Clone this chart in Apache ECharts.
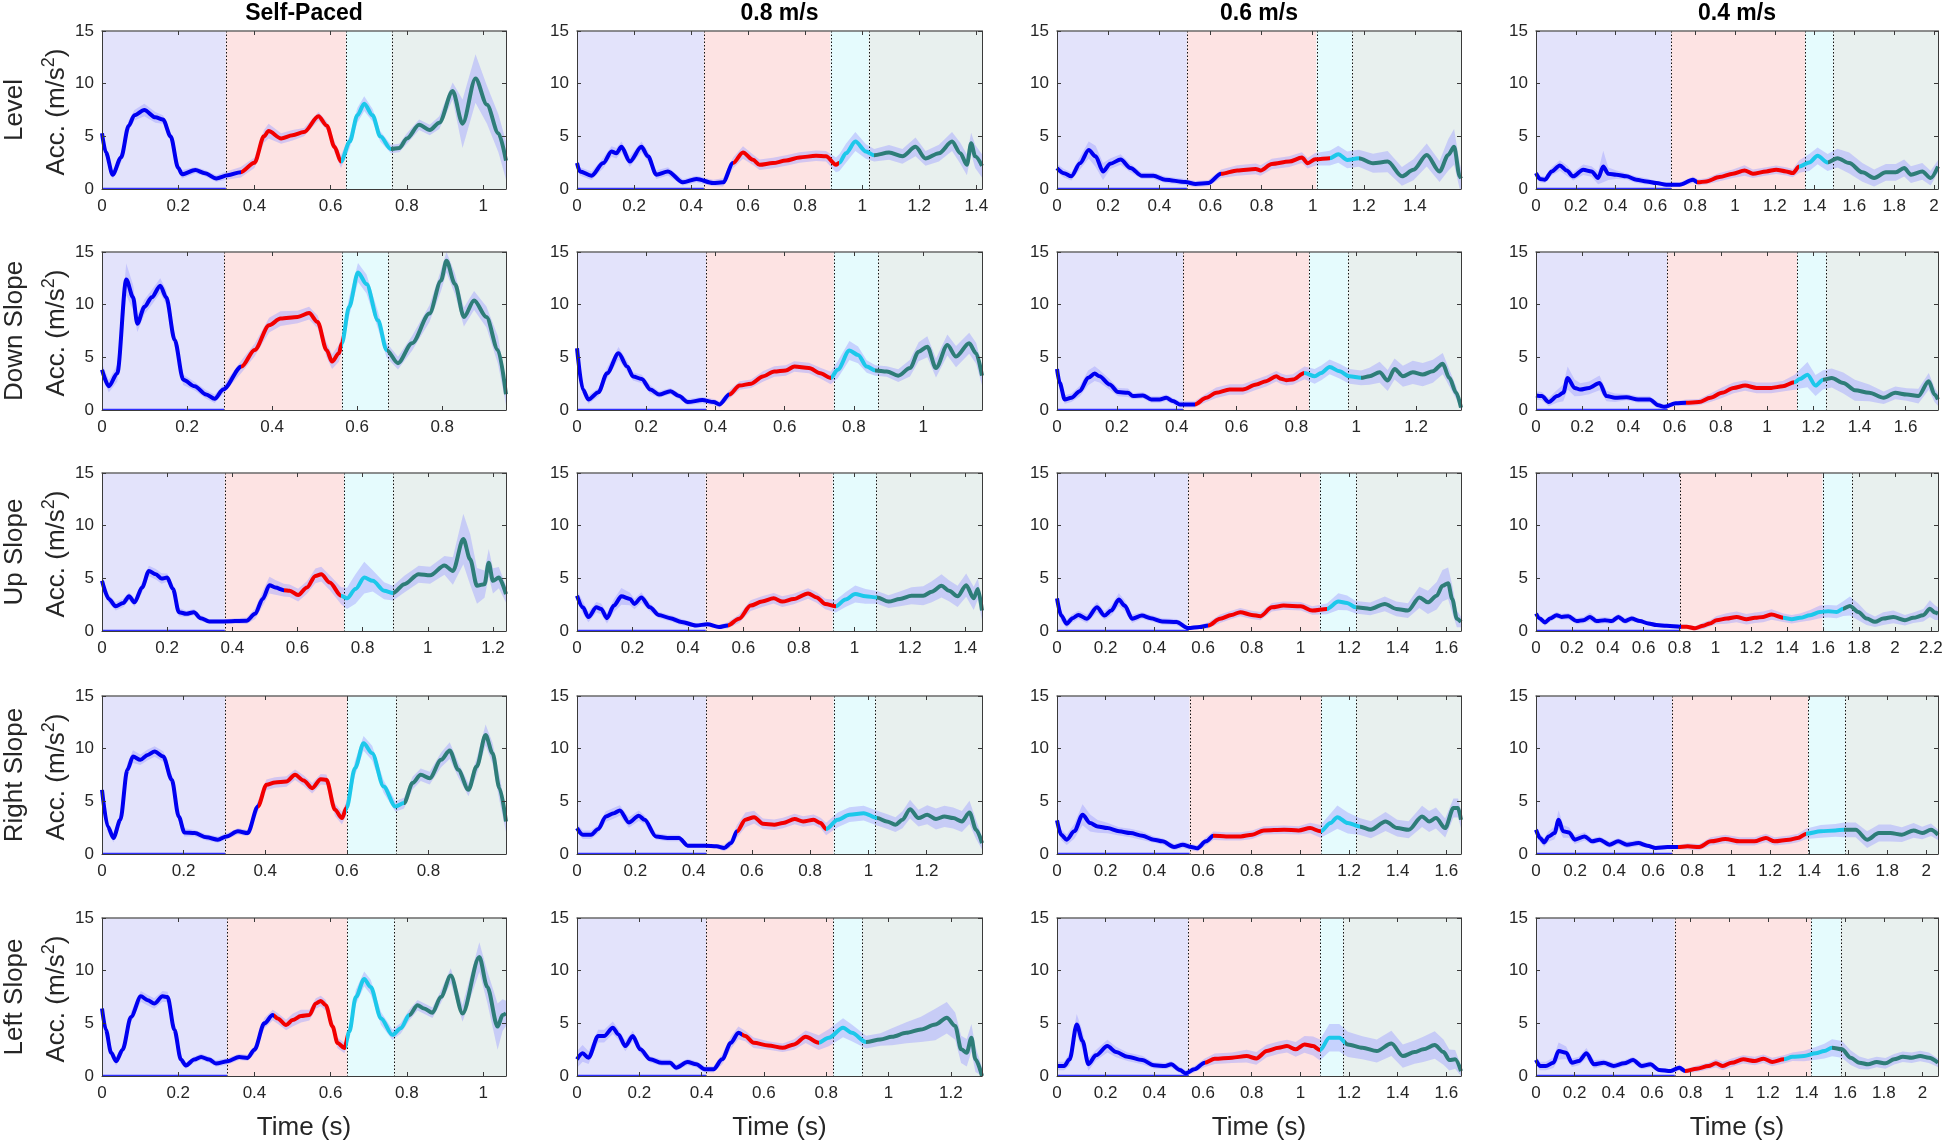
<!DOCTYPE html>
<html>
<head>
<meta charset="utf-8">
<title>Acceleration by gait phase</title>
<script src="https://cdn.jsdelivr.net/npm/echarts@6/dist/echarts.min.js"></script>
<style>
  html, body { margin: 0; padding: 0; background: #fff; }
  #chart { width: 1946px; height: 1144px; }
</style>
</head>
<body>
<div id="chart"></div>
<script>
// rows = surface, columns = walking speed
var rowNames = ['Level', 'Down Slope', 'Up Slope', 'Right Slope', 'Left Slope'];
var colNames = ['Self-Paced', '0.8 m/s', '0.6 m/s', '0.4 m/s'];
var yTicks = [0, 5, 10, 15];

// end of the time axis for every panel (s)
var xEnd = [
  [1.06, 1.42, 1.58, 2.02],
  [0.95, 1.17, 1.35, 1.74],
  [1.24, 1.46, 1.66, 2.24],
  [0.99, 1.39, 1.66, 2.06],
  [1.06, 1.30, 1.66, 2.08]
];

// dotted phase borders (shaded background)
var phaseEdges = [
  [[0.325, 0.64, 0.76], [0.445, 0.889, 1.023], [0.508, 1.015, 1.155], [0.68, 1.353, 1.494]],
  [[0.287, 0.564, 0.673], [0.373, 0.742, 0.87], [0.421, 0.842, 0.972], [0.567, 1.13, 1.255]],
  [[0.377, 0.743, 0.893], [0.464, 0.922, 1.078], [0.539, 1.08, 1.23], [0.802, 1.597, 1.762]],
  [[0.302, 0.601, 0.72], [0.444, 0.881, 1.024], [0.545, 1.086, 1.229], [0.697, 1.395, 1.585]],
  [[0.328, 0.644, 0.767], [0.414, 0.823, 0.915], [0.54, 1.081, 1.176], [0.718, 1.423, 1.577]]
];

// where the mean curve changes colour
var colourBreaks = [
  [[0.364, 0.627, 0.758], [0.547, 0.92, 1.042], [0.642, 1.067, 1.18], [0.809, 1.323, 1.465]],
  [[0.328, 0.564, 0.669], [0.44, 0.733, 0.862], [0.46, 0.827, 1.016], [0.65, 1.118, 1.243]],
  [[0.558, 0.734, 0.893], [0.543, 0.933, 1.082], [0.622, 1.109, 1.227], [0.81, 1.378, 1.712]],
  [[0.382, 0.599, 0.74], [0.549, 0.855, 1.03], [0.643, 1.083, 1.243], [0.727, 1.386, 1.579]],
  [[0.45, 0.64, 0.806], [0.531, 0.776, 0.928], [0.607, 1.081, 1.183], [0.772, 1.282, 1.532]]
];

// mean acceleration: [time, acc, half width of the band]
var lvSP = [[0,5.3,0.4],[0.01,3.5,0.4],[0.028,1.35,0.4],[0.05,3.0,0.5],[0.07,6.0,0.5],[0.085,7.0,0.5],[0.111,7.5,0.6],[0.14,6.8,0.5],[0.16,6.6,0.4],[0.18,5.0,0.4],[0.2,2.0,0.4],[0.21,1.4,0.4],[0.245,1.8,0.3],[0.27,1.5,0.3],[0.3,1.0,0.3],[0.33,1.3,0.4],[0.364,1.6,0.5],[0.4,2.5,0.5],[0.425,5.0,0.6],[0.437,5.5,0.7],[0.47,4.8,0.5],[0.5,5.1,0.5],[0.53,5.4,0.4],[0.568,6.9,0.4],[0.59,6.0,0.4],[0.61,4.0,0.5],[0.627,2.6,0.6],[0.65,4.5,0.6],[0.67,7.0,0.7],[0.688,8.1,0.7],[0.71,7.0,0.6],[0.73,5.0,0.5],[0.758,3.8,0.4],[0.78,3.9,0.4],[0.8,4.8,0.5],[0.832,6.1,0.5],[0.86,5.6,0.5],[0.885,6.3,0.6],[0.92,9.3,0.8],[0.946,6.2,2.3],[0.98,10.5,2.3],[1.01,8.0,1.8],[1.04,5.3,1.8],[1.06,2.7,1.8]];
var lv08 = [[0,2.46,0.4],[0.01,1.67,0.4],[0.051,1.26,0.4],[0.092,2.46,0.5],[0.121,3.56,0.5],[0.138,3.4,0.5],[0.156,4.0,0.5],[0.185,2.6,0.5],[0.226,4.0,0.5],[0.249,3.1,0.5],[0.278,1.36,0.4],[0.319,1.67,0.4],[0.371,0.63,0.3],[0.419,0.95,0.3],[0.477,0.57,0.3],[0.512,0.63,0.4],[0.547,2.46,0.5],[0.582,3.47,0.6],[0.617,2.77,0.5],[0.64,2.3,0.5],[0.687,2.46,0.5],[0.733,2.7,0.5],[0.78,3.0,0.5],[0.838,3.15,0.5],[0.873,3.1,0.5],[0.908,2.3,0.7],[0.92,2.5,0.8],[0.943,3.4,0.9],[0.976,4.5,0.9],[1.013,3.56,0.7],[1.042,3.2,0.6],[1.094,3.47,0.7],[1.141,3.1,0.7],[1.187,4.0,0.9],[1.222,2.9,0.7],[1.269,3.4,0.8],[1.315,4.5,0.9],[1.344,3.4,1.0],[1.367,2.3,1.0],[1.382,4.35,1.0],[1.396,3.1,1.1],[1.42,2.2,1.1]];
var lv06 = [[0,1.98,0.4],[0.027,1.5,0.4],[0.056,1.2,0.4],[0.09,2.45,0.6],[0.124,3.7,0.8],[0.151,3.1,1.0],[0.18,1.66,0.8],[0.208,2.4,0.5],[0.249,2.8,0.5],[0.287,2.0,0.4],[0.332,1.26,0.3],[0.377,1.26,0.3],[0.423,0.88,0.3],[0.502,0.66,0.3],[0.542,0.47,0.3],[0.592,0.56,0.3],[0.642,1.44,0.4],[0.705,1.76,0.5],[0.777,1.91,0.5],[0.796,1.76,0.5],[0.84,2.38,0.5],[0.908,2.6,0.5],[0.958,2.98,0.5],[0.98,2.45,0.5],[1.01,2.82,0.6],[1.067,2.92,0.7],[1.1,3.3,0.8],[1.135,2.76,0.8],[1.18,2.92,0.8],[1.236,2.45,0.9],[1.293,2.6,1.0],[1.349,1.2,0.9],[1.394,1.82,1.0],[1.446,3.23,1.1],[1.496,1.66,1.0],[1.53,3.23,1.5],[1.553,4.0,1.7],[1.575,1.2,1.2],[1.58,1.0,1.0]];
var lv04 = [[0,1.51,0.3],[0.02,0.95,0.3],[0.045,0.88,0.3],[0.079,1.67,0.4],[0.12,2.24,0.5],[0.154,1.76,0.5],[0.187,1.2,0.4],[0.237,1.83,0.5],[0.279,1.67,0.5],[0.312,1.04,0.6],[0.338,2.14,1.5],[0.363,1.45,0.6],[0.404,1.36,0.4],[0.454,1.2,0.3],[0.505,0.88,0.3],[0.555,0.72,0.3],[0.605,0.57,0.2],[0.655,0.41,0.2],[0.722,0.41,0.2],[0.789,0.88,0.3],[0.814,0.63,0.3],[0.855,0.72,0.3],[0.922,1.13,0.4],[0.989,1.45,0.4],[1.048,1.76,0.5],[1.09,1.45,0.4],[1.157,1.67,0.4],[1.207,1.83,0.4],[1.257,1.67,0.4],[1.29,1.51,0.4],[1.323,2.14,0.6],[1.373,2.52,0.8],[1.415,3.15,0.8],[1.465,2.52,0.8],[1.515,2.93,0.9],[1.574,2.46,1.0],[1.64,1.58,0.9],[1.699,1.04,0.8],[1.758,1.58,0.8],[1.808,1.58,0.8],[1.85,1.99,0.8],[1.884,1.36,0.8],[1.941,1.67,0.8],[1.983,1.04,0.7],[2.02,2.14,0.6]];

var dnSP = [[0,3.82,0.6],[0.016,2.25,0.6],[0.036,3.5,0.8],[0.057,12.4,1.5],[0.073,10.7,1.2],[0.083,8.2,0.8],[0.1,9.8,0.7],[0.117,10.7,0.7],[0.137,11.8,0.7],[0.151,10.7,0.7],[0.171,6.64,0.6],[0.191,2.88,0.5],[0.218,2.25,0.4],[0.245,1.47,0.4],[0.265,1.06,0.4],[0.285,1.94,0.4],[0.328,4.13,0.6],[0.359,5.7,0.6],[0.393,8.05,0.7],[0.42,8.68,0.7],[0.46,8.83,0.6],[0.487,9.2,0.6],[0.507,8.36,0.6],[0.528,5.7,0.7],[0.541,4.6,0.7],[0.557,5.39,0.8],[0.564,6.33,0.8],[0.581,9.77,0.9],[0.602,13.06,0.9],[0.622,11.96,0.9],[0.649,8.52,0.8],[0.669,5.7,0.7],[0.696,4.45,0.6],[0.729,6.33,0.7],[0.77,9.15,0.8],[0.797,12.28,1.0],[0.81,14.16,1.1],[0.83,11.96,1.0],[0.851,8.83,0.9],[0.875,10.4,0.9],[0.904,8.83,1.0],[0.931,5.7,1.3],[0.95,1.5,1.0]];
var dn08 = [[0,5.86,0.5],[0.017,1.94,0.4],[0.033,1.0,0.4],[0.062,1.69,0.4],[0.087,3.5,0.5],[0.12,5.39,0.6],[0.145,4.13,0.5],[0.162,3.19,0.4],[0.187,2.94,0.4],[0.212,1.94,0.4],[0.237,1.47,0.3],[0.27,1.79,0.3],[0.295,1.32,0.3],[0.32,0.75,0.3],[0.362,0.94,0.3],[0.395,0.75,0.3],[0.412,0.53,0.3],[0.44,1.47,0.4],[0.47,2.32,0.4],[0.503,2.5,0.4],[0.537,3.19,0.5],[0.57,3.66,0.5],[0.603,3.76,0.5],[0.628,4.13,0.5],[0.67,3.98,0.5],[0.703,3.5,0.5],[0.733,3.04,0.6],[0.753,3.82,0.8],[0.787,5.64,0.9],[0.812,5.23,0.8],[0.837,4.13,0.6],[0.862,3.76,0.5],[0.895,3.66,0.5],[0.928,3.26,0.6],[0.962,3.98,0.8],[0.987,5.54,0.9],[1.012,6.01,1.0],[1.037,3.98,0.9],[1.07,6.17,1.0],[1.095,5.07,1.0],[1.133,6.33,1.0],[1.153,5.39,1.0],[1.17,3.26,0.9]];
var dn06 = [[0,3.9,0.5],[0.009,2.58,0.5],[0.026,1.0,0.4],[0.048,1.16,0.4],[0.076,1.79,0.5],[0.104,3.05,0.7],[0.126,3.46,0.7],[0.142,3.2,0.6],[0.176,2.42,0.5],[0.204,1.7,0.4],[0.237,1.64,0.4],[0.254,1.32,0.3],[0.287,1.38,0.3],[0.315,1.0,0.3],[0.343,1.0,0.3],[0.365,1.16,0.3],[0.387,0.85,0.3],[0.41,0.53,0.3],[0.46,0.53,0.3],[0.499,1.16,0.4],[0.532,1.64,0.5],[0.577,1.95,0.5],[0.621,1.95,0.5],[0.666,2.42,0.5],[0.699,2.74,0.5],[0.733,3.2,0.5],[0.749,2.96,0.5],[0.766,2.83,0.5],[0.788,2.89,0.5],[0.827,3.52,0.6],[0.861,3.2,0.7],[0.883,3.52,0.7],[0.911,4.09,0.7],[0.944,3.68,0.7],[0.977,3.2,0.7],[1.016,3.05,0.7],[1.044,3.2,0.8],[1.078,3.58,1.0],[1.105,2.8,1.0],[1.128,3.9,1.0],[1.156,3.2,1.0],[1.189,3.58,1.1],[1.222,3.36,1.1],[1.256,3.68,1.1],[1.289,4.4,1.0],[1.311,3.05,0.8],[1.334,1.64,0.6],[1.35,0.22,0.3]];
var dn04 = [[0,1.38,0.4],[0.025,1.32,0.4],[0.055,0.75,0.4],[0.092,1.32,0.6],[0.118,1.63,0.8],[0.137,3.04,1.1],[0.167,2.1,0.8],[0.192,1.94,0.6],[0.23,2.1,0.6],[0.275,2.57,0.7],[0.305,1.32,0.5],[0.342,1.16,0.4],[0.392,1.22,0.3],[0.442,1.0,0.3],[0.492,1.0,0.3],[0.53,0.44,0.3],[0.555,0.31,0.2],[0.605,0.63,0.2],[0.65,0.69,0.3],[0.705,0.75,0.3],[0.755,1.16,0.4],[0.805,1.63,0.5],[0.855,2.1,0.5],[0.905,2.32,0.5],[0.955,2.1,0.5],[1.018,2.1,0.5],[1.068,2.25,0.5],[1.118,2.63,0.7],[1.142,2.94,0.9],[1.175,3.35,1.2],[1.21,2.32,1.0],[1.243,2.88,0.9],[1.28,3.04,0.9],[1.33,2.57,1.0],[1.38,1.88,1.0],[1.442,1.63,0.8],[1.505,1.16,0.6],[1.555,1.63,0.6],[1.605,1.47,0.6],[1.655,1.32,0.7],[1.7,2.72,0.8],[1.725,1.47,0.7],[1.74,1.0,0.6]];

var upSP = [[0,4.76,0.4],[0.021,3.04,0.4],[0.042,2.35,0.4],[0.065,2.66,0.4],[0.083,3.29,0.4],[0.1,2.72,0.4],[0.123,4.13,0.5],[0.144,5.7,0.5],[0.165,5.39,0.5],[0.183,4.98,0.5],[0.2,5.07,0.4],[0.218,3.98,0.4],[0.236,1.79,0.4],[0.259,1.63,0.3],[0.282,1.79,0.3],[0.303,1.22,0.3],[0.329,0.91,0.2],[0.373,0.91,0.2],[0.444,0.97,0.3],[0.47,1.63,0.5],[0.493,3.04,0.7],[0.514,4.35,0.8],[0.532,4.13,0.7],[0.558,3.88,0.6],[0.576,3.82,0.6],[0.602,3.41,0.6],[0.629,4.13,0.6],[0.655,5.23,0.7],[0.673,5.39,0.7],[0.699,4.6,0.7],[0.734,3.35,0.8],[0.752,3.1,1.0],[0.778,3.98,1.4],[0.805,5.07,1.5],[0.831,4.76,1.0],[0.866,3.82,0.8],[0.893,3.6,0.7],[0.928,4.45,0.8],[0.972,5.39,0.8],[1.007,5.29,0.8],[1.051,6.23,0.9],[1.077,5.7,1.3],[1.109,8.74,2.4],[1.13,6.8,2.4],[1.151,4.29,1.7],[1.174,4.45,1.3],[1.187,6.48,1.3],[1.2,4.76,1.2],[1.218,5.07,1.0],[1.24,3.5,0.8]];
var up08 = [[0,3.35,0.5],[0.021,2.25,0.6],[0.041,1.32,0.5],[0.07,2.25,0.5],[0.087,2.1,0.5],[0.108,1.22,0.5],[0.133,2.41,0.6],[0.16,3.29,0.8],[0.191,3.04,0.6],[0.207,2.57,0.5],[0.232,3.19,0.5],[0.263,2.25,0.4],[0.294,1.53,0.3],[0.336,1.22,0.3],[0.377,0.85,0.3],[0.429,0.53,0.2],[0.47,0.63,0.2],[0.512,0.38,0.2],[0.543,0.53,0.3],[0.584,1.16,0.4],[0.626,2.41,0.5],[0.667,2.79,0.5],[0.709,3.1,0.5],[0.74,2.79,0.5],[0.781,3.04,0.5],[0.833,3.57,0.5],[0.864,3.19,0.5],[0.895,2.57,0.5],[0.933,2.35,0.6],[0.968,2.98,0.7],[1.003,3.51,0.8],[1.04,3.29,0.7],[1.082,3.19,0.6],[1.123,2.79,0.6],[1.164,3.04,0.7],[1.206,3.35,0.8],[1.248,3.35,0.9],[1.279,3.73,1.0],[1.314,4.29,1.1],[1.341,3.82,1.0],[1.372,3.29,1.0],[1.403,4.35,1.1],[1.43,3.1,1.1],[1.445,3.98,1.0],[1.46,1.94,0.9]];
var up06 = [[0,3.1,0.5],[0.017,1.47,0.5],[0.04,0.69,0.4],[0.064,1.22,0.4],[0.088,1.53,0.4],[0.123,1.16,0.4],[0.164,2.25,0.5],[0.195,1.47,0.4],[0.223,1.94,0.5],[0.254,2.98,0.6],[0.278,2.41,0.5],[0.309,1.16,0.4],[0.349,1.47,0.3],[0.385,1.22,0.3],[0.432,0.91,0.3],[0.491,0.85,0.3],[0.539,0.28,0.2],[0.586,0.38,0.2],[0.622,0.53,0.3],[0.67,1.16,0.4],[0.717,1.53,0.4],[0.753,1.79,0.4],[0.8,1.53,0.4],[0.836,1.41,0.4],[0.883,2.25,0.4],[0.931,2.41,0.4],[1.002,2.35,0.4],[1.049,1.94,0.4],[1.109,2.1,0.5],[1.156,2.79,0.8],[1.192,2.66,0.7],[1.227,2.25,0.6],[1.287,2.1,0.6],[1.347,2.57,0.7],[1.394,2.1,0.7],[1.442,1.94,0.7],[1.489,3.19,1.0],[1.524,2.72,1.1],[1.56,3.35,1.3],[1.584,4.29,1.5],[1.607,4.54,1.5],[1.624,3.04,1.3],[1.643,1.16,0.8],[1.66,0.85,0.5]];
var up04 = [[0,1.65,0.3],[0.022,1.18,0.3],[0.05,0.81,0.3],[0.078,1.18,0.3],[0.115,1.5,0.3],[0.143,1.34,0.3],[0.18,1.4,0.3],[0.227,0.94,0.3],[0.264,1.03,0.3],[0.301,1.34,0.4],[0.338,0.94,0.3],[0.384,1.03,0.3],[0.422,0.94,0.3],[0.459,1.34,0.3],[0.496,0.94,0.3],[0.533,1.18,0.3],[0.579,0.94,0.2],[0.626,0.72,0.2],[0.672,0.56,0.2],[0.728,0.5,0.2],[0.802,0.41,0.2],[0.839,0.41,0.2],[0.886,0.25,0.2],[0.932,0.5,0.3],[0.969,0.72,0.3],[1.006,1.03,0.4],[1.062,1.18,0.5],[1.118,1.34,0.5],[1.173,1.12,0.5],[1.22,1.25,0.5],[1.266,1.34,0.5],[1.313,1.56,0.5],[1.378,1.25,0.4],[1.425,1.12,0.4],[1.471,1.25,0.4],[1.527,1.5,0.5],[1.582,1.81,0.6],[1.629,1.87,0.6],[1.675,1.81,0.6],[1.712,2.12,0.7],[1.749,2.37,0.9],[1.796,1.81,0.8],[1.842,1.18,0.6],[1.889,0.87,0.5],[1.935,1.18,0.6],[1.991,1.34,0.6],[2.056,1.03,0.5],[2.102,1.25,0.5],[2.158,1.5,0.6],[2.195,2.12,0.8],[2.223,1.75,0.7],[2.24,1.65,0.6]];

var rtSP = [[0,6.09,0.5],[0.014,2.62,0.5],[0.028,1.52,0.4],[0.045,3.25,0.5],[0.062,7.99,0.6],[0.076,9.25,0.6],[0.094,8.94,0.5],[0.112,9.41,0.5],[0.129,9.73,0.5],[0.15,9.25,0.5],[0.171,7.04,0.5],[0.188,3.57,0.4],[0.202,2.05,0.4],[0.227,1.99,0.3],[0.256,1.58,0.3],[0.284,1.36,0.3],[0.305,1.67,0.3],[0.333,2.15,0.3],[0.357,1.99,0.3],[0.382,4.52,0.5],[0.403,6.57,0.5],[0.424,6.79,0.5],[0.452,6.88,0.5],[0.473,7.52,0.5],[0.494,6.98,0.5],[0.515,6.25,0.5],[0.536,7.1,0.5],[0.55,7.04,0.5],[0.571,4.2,0.6],[0.588,3.41,0.6],[0.599,4.36,0.6],[0.62,8.15,0.7],[0.641,10.51,0.7],[0.662,9.57,0.7],[0.69,6.41,0.6],[0.719,4.52,0.5],[0.74,4.83,0.5],[0.761,6.73,0.6],[0.781,7.52,0.6],[0.803,7.2,0.6],[0.831,8.94,0.7],[0.852,9.82,0.8],[0.873,7.99,0.7],[0.898,6.09,0.6],[0.918,8.3,0.8],[0.94,11.3,1.0],[0.957,9.57,1.0],[0.974,6.25,1.2],[0.99,3.09,1.0]];
var rt08 = [[0,2.46,0.4],[0.02,1.83,0.4],[0.048,1.83,0.4],[0.073,2.37,0.4],[0.099,3.57,0.5],[0.127,3.88,0.5],[0.147,4.14,0.5],[0.178,3.0,0.5],[0.212,3.63,0.5],[0.232,3.25,0.4],[0.271,1.67,0.3],[0.311,1.52,0.3],[0.35,1.52,0.3],[0.38,0.79,0.2],[0.44,0.79,0.2],[0.479,0.73,0.2],[0.505,0.57,0.3],[0.529,1.04,0.4],[0.549,2.15,0.6],[0.578,3.25,0.7],[0.608,3.5,0.6],[0.638,2.87,0.5],[0.677,2.78,0.5],[0.707,2.94,0.5],[0.747,3.32,0.5],[0.776,3.09,0.5],[0.812,3.25,0.5],[0.836,2.94,0.5],[0.855,2.37,0.6],[0.895,3.25,0.7],[0.935,3.73,0.7],[0.984,3.88,0.7],[1.03,3.41,0.7],[1.063,3.09,0.7],[1.093,2.78,0.7],[1.117,3.25,0.8],[1.143,4.26,0.9],[1.172,3.41,0.8],[1.202,3.73,0.9],[1.232,3.32,1.0],[1.261,3.57,1.0],[1.291,3.41,1.0],[1.321,3.09,1.0],[1.347,3.95,1.1],[1.37,2.3,0.9],[1.39,1.04,0.6]];
var rt06 = [[0,3.19,0.5],[0.017,1.83,0.5],[0.04,1.36,0.5],[0.071,2.15,0.7],[0.105,3.73,1.0],[0.136,2.94,0.8],[0.167,2.62,0.6],[0.207,2.46,0.5],[0.255,2.15,0.4],[0.302,1.99,0.4],[0.35,1.74,0.4],[0.398,1.36,0.3],[0.433,1.2,0.3],[0.481,0.66,0.3],[0.517,0.88,0.3],[0.552,0.66,0.3],[0.576,0.54,0.3],[0.612,1.2,0.4],[0.643,1.74,0.4],[0.695,1.67,0.4],[0.755,1.67,0.4],[0.802,1.83,0.4],[0.85,2.24,0.4],[0.933,2.3,0.4],[0.993,2.24,0.4],[1.04,2.46,0.5],[1.083,2.15,0.6],[1.124,2.94,0.9],[1.152,3.5,1.1],[1.195,2.94,1.0],[1.243,2.62,0.8],[1.29,2.3,0.8],[1.35,3.09,0.9],[1.398,2.46,0.8],[1.445,2.3,0.8],[1.5,3.57,1.0],[1.529,3.09,1.0],[1.557,3.41,1.0],[1.595,2.46,0.9],[1.629,4.36,0.9],[1.648,4.36,0.9],[1.66,3.25,0.8]];
var rt04 = [[0,2.3,0.4],[0.021,1.52,0.4],[0.042,1.1,0.4],[0.065,1.67,0.5],[0.095,1.99,0.6],[0.116,3.25,0.9],[0.139,2.15,0.6],[0.169,2.05,0.5],[0.199,1.36,0.4],[0.249,1.67,0.4],[0.288,1.2,0.3],[0.326,1.36,0.3],[0.377,0.88,0.3],[0.421,1.2,0.3],[0.466,0.88,0.3],[0.525,1.04,0.3],[0.57,0.79,0.2],[0.614,0.57,0.2],[0.674,0.66,0.2],[0.727,0.66,0.2],[0.777,0.73,0.3],[0.837,0.66,0.3],[0.896,1.2,0.4],[0.97,1.42,0.4],[1.045,1.2,0.4],[1.119,1.2,0.4],[1.178,1.52,0.4],[1.223,1.2,0.4],[1.297,1.36,0.4],[1.341,1.52,0.4],[1.386,1.93,0.5],[1.46,2.15,0.6],[1.534,2.24,0.6],[1.579,2.3,0.7],[1.638,2.3,0.7],[1.697,1.36,0.8],[1.757,1.99,0.8],[1.816,1.99,0.8],[1.875,1.83,0.7],[1.935,2.24,0.7],[1.979,1.99,0.6],[2.024,2.3,0.6],[2.06,1.83,0.5]];

var lfSP = [[0,6.4,0.4],[0.01,4.4,0.4],[0.024,2.2,0.4],[0.037,1.4,0.4],[0.054,2.5,0.4],[0.076,5.6,0.5],[0.102,7.56,0.5],[0.12,7.2,0.5],[0.137,6.88,0.5],[0.159,7.56,0.5],[0.172,7.5,0.5],[0.19,4.38,0.4],[0.207,1.56,0.4],[0.22,1.0,0.3],[0.242,1.56,0.3],[0.26,1.81,0.3],[0.281,1.56,0.3],[0.299,1.19,0.3],[0.33,1.4,0.3],[0.36,1.81,0.3],[0.382,1.72,0.3],[0.4,2.5,0.4],[0.426,5.0,0.5],[0.448,5.78,0.5],[0.461,5.47,0.5],[0.483,4.84,0.5],[0.5,5.31,0.6],[0.522,5.69,0.6],[0.544,5.78,0.5],[0.561,6.88,0.5],[0.574,7.13,0.5],[0.587,6.72,0.5],[0.605,4.69,0.5],[0.618,3.13,0.5],[0.636,2.66,0.5],[0.649,4.22,0.6],[0.666,7.5,0.7],[0.688,9.22,0.7],[0.705,8.44,0.7],[0.732,5.47,0.6],[0.762,3.91,0.5],[0.784,4.53,0.5],[0.806,5.78,0.5],[0.828,6.72,0.5],[0.845,6.41,0.5],[0.867,6.0,0.5],[0.889,7.5,0.6],[0.915,9.53,0.7],[0.946,5.94,0.8],[0.99,11.3,1.4],[1.011,8.44,1.5],[1.038,4.69,2.2],[1.051,5.78,1.5],[1.06,5.94,1.2]];
var lf08 = [[0,1.58,0.8],[0.018,2.15,0.8],[0.037,1.74,0.6],[0.068,3.79,0.6],[0.087,3.79,0.6],[0.115,4.58,0.6],[0.133,3.95,0.5],[0.155,2.84,0.5],[0.179,3.79,0.5],[0.203,2.53,0.4],[0.235,1.58,0.3],[0.272,1.26,0.3],[0.299,1.26,0.3],[0.318,0.79,0.3],[0.355,1.33,0.3],[0.383,1.11,0.3],[0.41,0.63,0.3],[0.438,0.63,0.3],[0.466,1.58,0.5],[0.494,3.16,0.6],[0.518,4.1,0.6],[0.54,3.79,0.5],[0.567,3.16,0.5],[0.614,2.9,0.4],[0.66,2.68,0.4],[0.697,3.0,0.5],[0.734,3.73,0.6],[0.776,3.16,0.7],[0.808,3.63,0.8],[0.854,4.58,0.9],[0.882,4.1,0.8],[0.928,3.22,0.6],[0.974,3.47,0.6],[1.011,3.73,0.8],[1.057,4.1,1.0],[1.104,4.42,1.2],[1.15,4.89,1.5],[1.187,5.53,1.5],[1.214,4.74,1.3],[1.233,2.53,1.3],[1.251,2.21,1.3],[1.266,3.63,1.3],[1.279,1.58,1.2],[1.3,0.0,0.8]];
var lf06 = [[0,0.95,0.4],[0.029,0.95,0.4],[0.052,1.58,0.6],[0.081,4.89,1.0],[0.105,3.32,0.9],[0.129,1.11,0.6],[0.16,1.96,0.5],[0.207,2.84,0.6],[0.243,2.27,0.5],[0.29,1.83,0.4],[0.35,1.52,0.4],[0.398,1.01,0.3],[0.445,0.95,0.3],[0.469,1.11,0.3],[0.505,0.57,0.3],[0.529,0.25,0.3],[0.564,0.63,0.3],[0.607,1.26,0.4],[0.648,1.64,0.5],[0.719,1.74,0.5],[0.779,1.89,0.6],[0.819,1.67,0.6],[0.862,2.37,0.6],[0.91,2.68,0.6],[0.945,2.84,0.6],[0.981,2.53,0.7],[1.017,3.0,0.8],[1.052,2.84,0.9],[1.081,2.46,1.0],[1.119,3.63,1.3],[1.16,3.63,1.3],[1.195,3.0,1.2],[1.255,2.68,1.1],[1.314,2.37,1.1],[1.374,3.09,1.2],[1.421,1.89,1.1],[1.469,2.27,1.1],[1.505,2.53,1.2],[1.552,2.94,1.3],[1.588,2.27,1.2],[1.612,1.52,1.0],[1.636,1.58,0.9],[1.66,0.47,0.5]];
var lf04 = [[0,1.52,0.4],[0.021,0.95,0.4],[0.051,0.95,0.4],[0.09,1.26,0.5],[0.117,2.37,0.8],[0.156,2.21,0.6],[0.186,1.26,0.4],[0.222,1.42,0.4],[0.261,2.15,0.5],[0.3,1.11,0.4],[0.351,1.26,0.3],[0.402,0.95,0.3],[0.456,1.2,0.3],[0.502,1.52,0.3],[0.547,0.95,0.3],[0.592,1.11,0.3],[0.637,0.57,0.2],[0.697,0.47,0.2],[0.742,0.79,0.3],[0.772,0.47,0.2],[0.832,0.69,0.3],[0.892,0.95,0.3],[0.931,1.2,0.4],[0.967,0.95,0.4],[1.012,1.26,0.4],[1.072,1.58,0.4],[1.132,1.42,0.4],[1.177,1.64,0.4],[1.222,1.33,0.4],[1.282,1.58,0.4],[1.327,1.83,0.4],[1.387,1.89,0.5],[1.447,2.15,0.6],[1.492,2.37,0.7],[1.532,2.68,0.8],[1.583,2.53,0.8],[1.628,1.74,0.7],[1.673,1.26,0.6],[1.718,1.11,0.5],[1.763,1.33,0.5],[1.808,1.2,0.5],[1.853,1.58,0.5],[1.898,1.83,0.5],[1.943,1.74,0.5],[1.988,1.89,0.5],[2.033,1.74,0.5],[2.08,1.26,0.4]];

var curves = [
  [lvSP, lv08, lv06, lv04],
  [dnSP, dn08, dn06, dn04],
  [upSP, up08, up06, up04],
  [rtSP, rt08, rt06, rt04],
  [lfSP, lf08, lf06, lf04]
];

// layout (px)
var colLeft = [102, 577, 1057, 1536];
var colWidth = [404, 405, 404, 402];
var rowTop = [31, 252, 473, 696, 918];
var plotH = 158;

var shade = ['#e3e3fb', '#fde3e3', '#e5fbfd', '#e8f0ee'];
var lineCol = ['#0000f0', '#f20000', '#1cc8ea', '#2e7d78'];
var bandCol = 'rgba(160,160,255,0.45)';
var axisCol = '#3a3a3a';
var txtCol = '#262626';
var font = '"Liberation Sans", Arial, Helvetica, sans-serif';

var chart = echarts.init(document.getElementById('chart'), null, { renderer: 'canvas' });

// background phases, dotted borders and the spread band of one panel
function makeRender(pts, edges, xmax) {
  return function (params, api) {
    if (params.dataIndex !== 0) return;
    var kids = [];
    var bounds = [0].concat(edges, [xmax]);
    for (var i = 0; i < 4; i++) {
      var a = api.coord([bounds[i], 15]);
      var b = api.coord([bounds[i + 1], 0]);
      kids.push({ type: 'rect', shape: { x: a[0], y: a[1], width: b[0] - a[0], height: b[1] - a[1] }, style: { fill: shade[i] } });
    }
    var up = [], lo = [];
    pts.forEach(function (p) {
      up.push(api.coord([p[0], Math.min(15, p[1] + p[2])]));
      lo.push(api.coord([p[0], Math.max(0, p[1] - p[2])]));
    });
    kids.push({ type: 'polygon', shape: { points: up.concat(lo.reverse()) }, style: { fill: bandCol } });
    edges.forEach(function (e) {
      var a = api.coord([e, 15]), b = api.coord([e, 0]);
      var x = Math.round(a[0]) + 0.5;
      kids.push({ type: 'line', shape: { x1: x, y1: a[1], x2: x, y2: b[1] }, style: { stroke: '#111', lineWidth: 1, lineDash: [1.5, 2] } });
    });
    // blue edge of the first phase along the baseline
    var p0 = api.coord([0, 0]), p1 = api.coord([edges[0], 0]);
    kids.push({ type: 'line', shape: { x1: p0[0], y1: p0[1] - 0.5, x2: p1[0], y2: p1[1] - 0.5 }, style: { stroke: '#3030ff', lineWidth: 1.5 } });
    return { type: 'group', children: kids };
  };
}

var grids = [], xAxes = [], yAxes = [], series = [], visualMaps = [], graphics = [];

for (var r = 0; r < 5; r++) {
  for (var c = 0; c < 4; c++) {
    var k = grids.length;
    var xmax = xEnd[r][c];
    grids.push({ left: colLeft[c], top: rowTop[r], width: colWidth[c], height: plotH, containLabel: false });

    // bottom axis with labels, top mirror
    xAxes.push({
      gridIndex: k, type: 'value', min: 0, max: xmax, interval: 0.2, z: 10,
      axisLine: { show: true, onZero: false, lineStyle: { color: axisCol, width: 1 } },
      axisTick: { show: true, inside: true, length: 4, lineStyle: { color: axisCol } },
      axisLabel: {
        show: true, margin: 9, color: txtCol, fontSize: 17, fontFamily: font, showMaxLabel: false,
        formatter: function (v) { return String(+v.toFixed(1)); }
      },
      splitLine: { show: false }
    });
    xAxes.push({
      gridIndex: k, type: 'value', position: 'top', min: 0, max: xmax, interval: 0.2, z: 10,
      axisLine: { show: true, onZero: false, lineStyle: { color: '#6a6a6a', width: 1.5 } },
      axisTick: { show: true, inside: true, length: 4, lineStyle: { color: axisCol } },
      axisLabel: { show: false }, splitLine: { show: false }
    });
    yAxes.push({
      gridIndex: k, type: 'value', min: 0, max: 15, interval: 5, z: 10,
      axisLine: { show: true, onZero: false, lineStyle: { color: axisCol, width: 1 } },
      axisTick: { show: true, inside: true, length: 4, lineStyle: { color: axisCol } },
      axisLabel: { show: true, margin: 8, color: txtCol, fontSize: 17, fontFamily: font },
      splitLine: { show: false }
    });
    yAxes.push({
      gridIndex: k, type: 'value', position: 'right', min: 0, max: 15, interval: 5, z: 10,
      axisLine: { show: true, onZero: false, lineStyle: { color: axisCol, width: 1 } },
      axisTick: { show: true, inside: true, length: 4, lineStyle: { color: axisCol } },
      axisLabel: { show: false }, splitLine: { show: false }
    });

    var pts = curves[r][c];
    series.push({
      type: 'custom', xAxisIndex: 2 * k, yAxisIndex: 2 * k, z: 1, silent: true,
      data: [[0, 0]],
      renderItem: makeRender(pts, phaseEdges[r][c], xmax)
    });
    series.push({
      type: 'line', xAxisIndex: 2 * k, yAxisIndex: 2 * k, z: 3, silent: true,
      data: pts.map(function (p) { return [p[0], p[1]]; }),
      smooth: 0.3, smoothMonotone: 'x', symbol: 'none',
      lineStyle: { width: 4 }
    });

    var br = colourBreaks[r][c];
    visualMaps.push({
      type: 'piecewise', show: false, seriesIndex: 2 * k + 1, dimension: 0,
      pieces: [
        { lt: br[0], color: lineCol[0] },
        { gte: br[0], lt: br[1], color: lineCol[1] },
        { gte: br[1], lt: br[2], color: lineCol[2] },
        { gte: br[2], color: lineCol[3] }
      ]
    });
  }
}

// column titles and x axis names
for (var c2 = 0; c2 < 4; c2++) {
  var cx = colLeft[c2] + colWidth[c2] / 2;
  graphics.push({ type: 'text', x: cx, y: 14, style: { text: colNames[c2], align: 'center', verticalAlign: 'middle', fill: '#000', font: 'bold 23px ' + font } });
  graphics.push({ type: 'text', x: cx, y: 1128, style: { text: 'Time (s)', align: 'center', verticalAlign: 'middle', fill: txtCol, font: '26px ' + font } });
}
// row names and y axis names
for (var r2 = 0; r2 < 5; r2++) {
  var cy = rowTop[r2] + plotH / 2;
  graphics.push({ type: 'text', x: 15, y: cy, rotation: Math.PI / 2, style: { text: rowNames[r2], align: 'center', verticalAlign: 'middle', fill: txtCol, font: '26px ' + font } });
  graphics.push({
    type: 'text', x: 57, y: cy + 2, rotation: Math.PI / 2,
    style: {
      text: 'Acc. (m/s{s|2})', align: 'center', verticalAlign: 'middle', fill: txtCol, font: '26px ' + font,
      rich: { s: { fontSize: 18, fontFamily: font, fill: txtCol, verticalAlign: 'top', lineHeight: 34 } }
    }
  });
}

var option = {
  animation: false,
  backgroundColor: '#ffffff',
  textStyle: { fontFamily: font },
  grid: grids,
  xAxis: xAxes,
  yAxis: yAxes,
  visualMap: visualMaps,
  series: series,
  graphic: graphics
};

chart.setOption(option);
</script>
</body>
</html>
